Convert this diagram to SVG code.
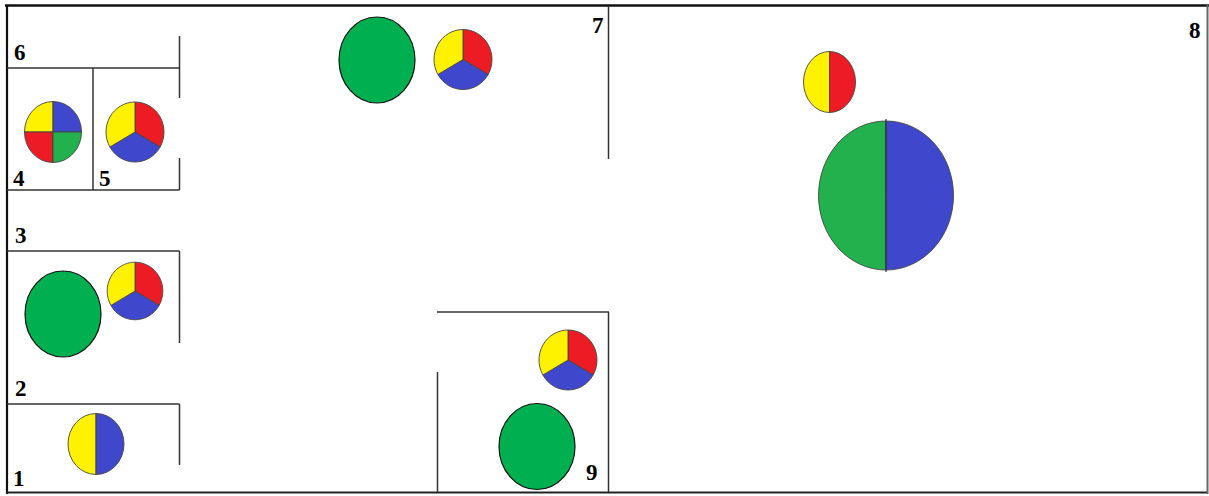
<svg xmlns="http://www.w3.org/2000/svg" xmlns:xlink="http://www.w3.org/1999/xlink" width="1209" height="496" viewBox="0 0 1209 496">
<style>
.ln{stroke:#333;stroke-width:1.5;fill:none}
.lbl{font-family:"Liberation Serif","Times New Roman",serif;font-weight:bold;font-size:23px;fill:#000}
.y{fill:#FFF200}.r{fill:#ED1C24}.b{fill:#3F48CC}.g{fill:#22B14C}
.seg{stroke:#444;stroke-width:0.9}
.green{fill:#00B050;stroke:#111;stroke-width:1.2}
</style>
<defs>
<g id="pie3">
<path class="r seg" d="M0,0 L0,-30 A29,30 0 0 1 25.11,15 Z"/>
<path class="b seg" d="M0,0 L25.11,15 A29,30 0 0 1 -25.11,15 Z"/>
<path class="y seg" d="M0,0 L-25.11,15 A29,30 0 0 1 0,-30 Z"/>
</g>
</defs>
<rect width="1209" height="496" fill="#fff"/>
<g id="connectors">
<line x1="5" y1="5.5" x2="1209" y2="5.5" stroke="#111" stroke-width="2.5"/>
<line x1="7" y1="5" x2="7" y2="494" stroke="#111" stroke-width="2.2"/>
<line x1="6" y1="492.5" x2="1208" y2="492.5" stroke="#222" stroke-width="2"/>
<line x1="1207.5" y1="5" x2="1207.5" y2="494" stroke="#666" stroke-width="2"/>
<line class="ln" x1="608.5" y1="6" x2="608.5" y2="159"/>
<line class="ln" x1="608.5" y1="312" x2="608.5" y2="492"/>
<line class="ln" x1="7" y1="68" x2="179.5" y2="68"/>
<line class="ln" x1="179.5" y1="36" x2="179.5" y2="98"/>
<line class="ln" x1="179.5" y1="158" x2="179.5" y2="190"/>
<line class="ln" x1="7" y1="190" x2="179.5" y2="190"/>
<line class="ln" x1="93" y1="68" x2="93" y2="190"/>
<line class="ln" x1="7" y1="251" x2="179.5" y2="251"/>
<line class="ln" x1="179.5" y1="251" x2="179.5" y2="343"/>
<line class="ln" x1="7" y1="404" x2="179.5" y2="404"/>
<line class="ln" x1="179.5" y1="404" x2="179.5" y2="465"/>
<line class="ln" x1="437" y1="312" x2="609" y2="312"/>
<line class="ln" x1="437.5" y1="372" x2="437.5" y2="492"/>
</g>
<g id="node1">
<path class="y seg" d="M96,444 L96,413.5 A28,30.5 0 0 0 96,474.5 Z"/>
<path class="b seg" d="M96,444 L96,413.5 A28,30.5 0 0 1 96,474.5 Z"/>
<text class="lbl" x="13" y="486">1</text>
</g>
<g id="node2">
<ellipse class="green" cx="63" cy="314" rx="38" ry="43"/>
<use xlink:href="#pie3" transform="translate(135,291) scale(0.96)"/>
<text class="lbl" x="15" y="396">2</text>
</g>
<g id="node3">
<text class="lbl" x="15" y="243">3</text>
</g>
<g id="node4">
<path class="y seg" d="M53,132 L53,101.5 A28.5,30.5 0 0 0 24.5,132 Z"/>
<path class="b seg" d="M53,132 L53,101.5 A28.5,30.5 0 0 1 81.5,132 Z"/>
<path class="r seg" d="M53,132 L24.5,132 A28.5,30.5 0 0 0 53,162.5 Z"/>
<path class="g seg" d="M53,132 L81.5,132 A28.5,30.5 0 0 1 53,162.5 Z"/>
<text class="lbl" x="13" y="186">4</text>
</g>
<g id="node5">
<use xlink:href="#pie3" transform="translate(135,132)"/>
<text class="lbl" x="99" y="186">5</text>
</g>
<g id="node6">
<text class="lbl" x="14" y="60">6</text>
</g>
<g id="node7">
<ellipse class="green" cx="377" cy="60" rx="38" ry="43"/>
<use xlink:href="#pie3" transform="translate(463,59.5)"/>
<text class="lbl" x="592" y="33">7</text>
</g>
<g id="node8">
<path class="y seg" d="M829.5,82 L829.5,51.5 A26,30.5 0 0 0 829.5,112.5 Z"/>
<path class="r seg" d="M829.5,82 L829.5,51.5 A26,30.5 0 0 1 829.5,112.5 Z"/>
<path class="g seg" d="M886,195.5 L886,121 A67.5,74.5 0 0 0 886,270 Z"/>
<path class="b seg" d="M886,195.5 L886,121 A67.5,74.5 0 0 1 886,270 Z"/>
<line x1="886" y1="119" x2="886" y2="272" stroke="#333" stroke-width="1.2"/>
<text class="lbl" x="1189" y="38">8</text>
</g>
<g id="node9">
<use xlink:href="#pie3" transform="translate(568,360)"/>
<ellipse class="green" cx="537" cy="446.5" rx="38" ry="43"/>
<text class="lbl" x="586" y="480">9</text>
</g>
</svg>
